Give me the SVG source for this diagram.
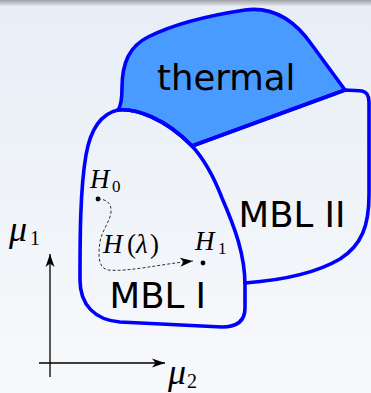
<svg xmlns="http://www.w3.org/2000/svg" width="371" height="393" viewBox="0 0 371 393">
<defs>
<linearGradient id="bg" x1="0" y1="0" x2="0" y2="1">
<stop offset="0" stop-color="#e7eef6"/>
<stop offset="1" stop-color="#f8f9fb"/>
</linearGradient>
<linearGradient id="bar" x1="0" y1="0" x2="0" y2="1">
<stop offset="0" stop-color="#9fa3a9"/>
<stop offset="1" stop-color="#e2e7ee"/>
</linearGradient>
<marker id="arr" viewBox="-13 -5 14 10" refX="0" refY="0" markerWidth="14" markerHeight="10" markerUnits="userSpaceOnUse" orient="auto">
<path d="M0,0 L-13,-4.5 L-9.5,0 L-13,4.5 Z" fill="#000"/>
</marker>
</defs>
<style>
.region{stroke:#0000ff;stroke-width:3.6;stroke-linejoin:round;stroke-linecap:round}
.big{font-family:"DejaVu Sans",sans-serif;font-size:35.5px;fill:#000}
.math{font-family:"Liberation Serif",serif;font-style:italic;fill:#000}
.up{font-style:normal}
.axis{stroke:#000;stroke-width:1.3;fill:none}
</style>
<rect x="0" y="0" width="371" height="393" fill="url(#bg)"/>
<rect x="0" y="0" width="371" height="6" fill="url(#bar)"/>

<g id="thermal">
<path class="region" fill="#4a9bff" d="M118,110 C121,106 122,100 122,88 C122,62 130,46 148,37 C170,26 205,16 245,10 C275,6 296,22 312,45 L345,90 L192,146 C165,118 135,108 118,110 Z"/>
<text class="big" x="157" y="90">thermal</text>
</g>

<g id="mbl2">
<path class="region" fill="none" d="M192,146 L345,90 C352,90 357,91 362,91 C367,92 369,96 369,102 L369,195 C369,225 362,245 340,259 C318,272 285,280 245,283"/>
<text class="big" x="238.5" y="227">MBL II</text>
</g>

<g id="mbl1">
<path class="region" fill="none" d="M118,110 C135,108 165,118 192,146 C205,160 215,180 222,198 C235,228 245,255 245,285 L245,308 C245,320 238,327 222,327 L120,322 C95,320 80,305 80,280 C80,240 80,190 86,155 C90,132 100,114 118,110 Z"/>
<text class="big" x="109.5" y="308">MBL I</text>
</g>

<g id="H0">
<circle cx="98" cy="199" r="2.4" fill="#000"/>
<text class="math" x="90" y="188" font-size="27">H</text>
<text class="math up" x="112" y="192" font-size="17">0</text>
</g>

<g id="H1">
<circle cx="203" cy="263" r="2.4" fill="#000"/>
<text class="math" x="195" y="250" font-size="27">H</text>
<text class="math up" x="218" y="254" font-size="17">1</text>
</g>

<g id="connectors">
<path d="M98,199 C106,199 112,203 111,212 C110,222 102,230 100,242 C98,255 98,268 108,270 C130,272 160,264 193,261" fill="none" stroke="#333" stroke-width="1" stroke-dasharray="3,2" marker-end="url(#arr)"/>
<text class="math" font-size="27" y="253"><tspan x="103">H</tspan><tspan class="up" x="127">(</tspan><tspan x="136">λ</tspan><tspan class="up" x="150">)</tspan></text>
</g>

<g id="axes">
<path class="axis" d="M50,377 L50,254" marker-end="url(#arr)"/>
<path class="axis" d="M39,363 L165,363" marker-end="url(#arr)"/>
<text class="math" x="9" y="241" font-size="36">μ</text>
<text class="math up" x="30" y="245" font-size="20">1</text>
<text class="math" x="168" y="384" font-size="36">μ</text>
<text class="math up" x="187" y="388" font-size="20">2</text>
</g>
</svg>
